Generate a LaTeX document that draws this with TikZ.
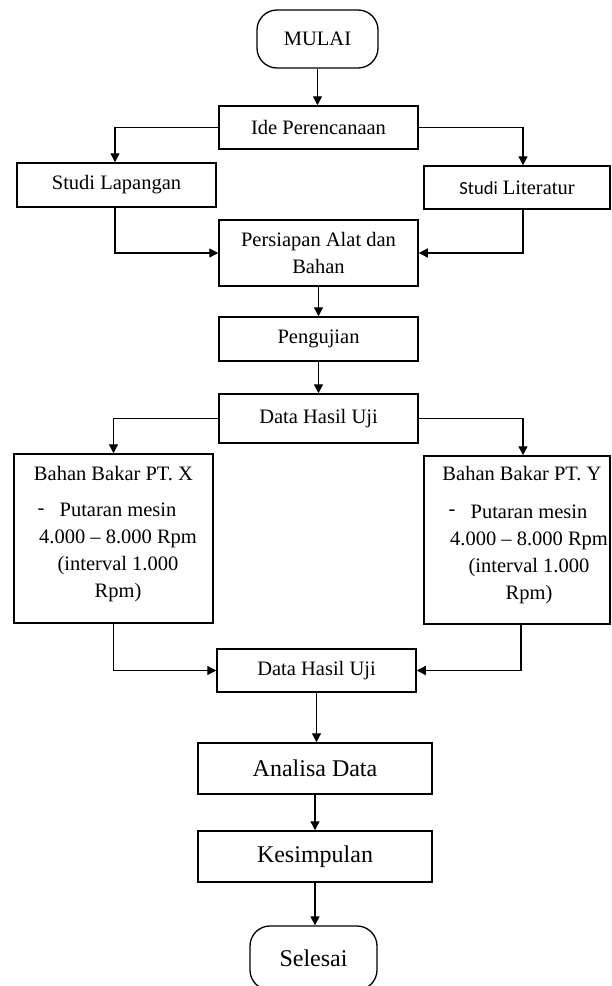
\documentclass[tikz,border=0pt]{standalone}
\usepackage{fontspec}
\setmainfont{Liberation Serif}
\newfontfamily\calib{Carlito}
\usetikzlibrary{arrows.meta}
\begin{document}
\begin{tikzpicture}[x=1pt,y=-1pt,
  box/.style={draw, line width=1.5pt, inner sep=0pt, minimum width=199pt, align=center, font=\fontsize{20.5}{27}\selectfont},
  big/.style={box, minimum width=234pt, minimum height=51pt, font=\fontsize{24}{28}\selectfont},
  term/.style={draw, line width=1.3pt, rounded corners=20pt, inner sep=0pt},
  conn/.style={line width=1.3pt, -{Triangle[length=9pt,width=9pt]}},
  txt/.style={inner sep=0pt, font=\fontsize{20.5}{27}\selectfont, align=center}]
\fill[white] (0,0) rectangle (611,986);
\useasboundingbox (0,0) rectangle (611,986);

% nodes
\node[term, minimum width=121pt, minimum height=58pt, font=\fontsize{20.5}{27}\selectfont] (mulai) at (317.5,39) {MULAI};
\node[box, minimum height=43pt] (ide) at (318.5,127.5) {Ide Perencanaan};
\node[box, minimum height=44pt] (lap) at (116.5,185) {Studi Lapangan};
\node[box, minimum width=186pt, minimum height=43pt] (lit) at (517,187.5) {{\calib\fontsize{18.5}{27}\selectfont Studi} Literatur};
\node[box, minimum height=66pt] (siap) at (318.5,253) {Persiapan Alat dan\\Bahan};
\node[box, minimum height=44pt] (uji) at (318.5,339) {Pengujian};
\node[box, minimum height=49pt] (data1) at (318.5,418.5) {Data Hasil Uji};

\node[box, minimum height=169pt] (ptx) at (113.5,538.5) {};
\node[txt] (ptxt) at (113.5,474) {Bahan Bakar PT. X};
\node[txt] (ptxd) at (41,512) {-};
\node[txt] (ptxb) at (118,552.5) {Putaran mesin\\4.000 – 8.000 Rpm\\(interval 1.000\\Rpm)};

\node[box, minimum width=186pt, minimum height=168pt] (pty) at (517,540) {};
\node[txt] (ptyt) at (522,474) {Bahan Bakar PT. Y};
\node[txt] (ptyd) at (452,513) {-};
\node[txt] (ptyb) at (529,554) {Putaran mesin\\4.000 – 8.000 Rpm\\(interval 1.000\\Rpm)};

\node[box, minimum height=43pt] (data2) at (316.5,670.5) {Data Hasil Uji};
\node[big] (analisa) at (315,768.5) {Analisa Data};
\node[big] (kesim) at (315,856.5) {Kesimpulan};
\node[term, minimum width=127pt, minimum height=64pt, font=\fontsize{24}{28}\selectfont] (selesai) at (313.5,958) {Selesai};

% connectors
\draw[conn] (mulai.south) -- (mulai.south |- ide.north);
\draw[conn] (ide.west) -| ([xshift=-1.5pt]lap.north);
\draw[conn] (ide.east) -| ([xshift=6pt]lit.north);
\draw[conn] ([xshift=-1.5pt]lap.south) |- (siap.west);
\draw[conn] ([xshift=6pt]lit.south) |- (siap.east);
\draw[conn] (siap.south) -- (uji.north);
\draw[conn] (uji.south) -- (data1.north);
\draw[conn] (data1.west) -| (ptx.north);
\draw[conn] (data1.east) -| ([xshift=6pt]pty.north);
\draw[conn] (ptx.south) |- (data2.west);
\draw[conn] ([xshift=4pt]pty.south) |- (data2.east);
\draw[conn] (data2.south) -- (data2.south |- analisa.north);
\draw[conn] (analisa.south) -- (kesim.north);
\draw[conn] (kesim.south) -- (kesim.south |- selesai.north);
\end{tikzpicture}
\end{document}
